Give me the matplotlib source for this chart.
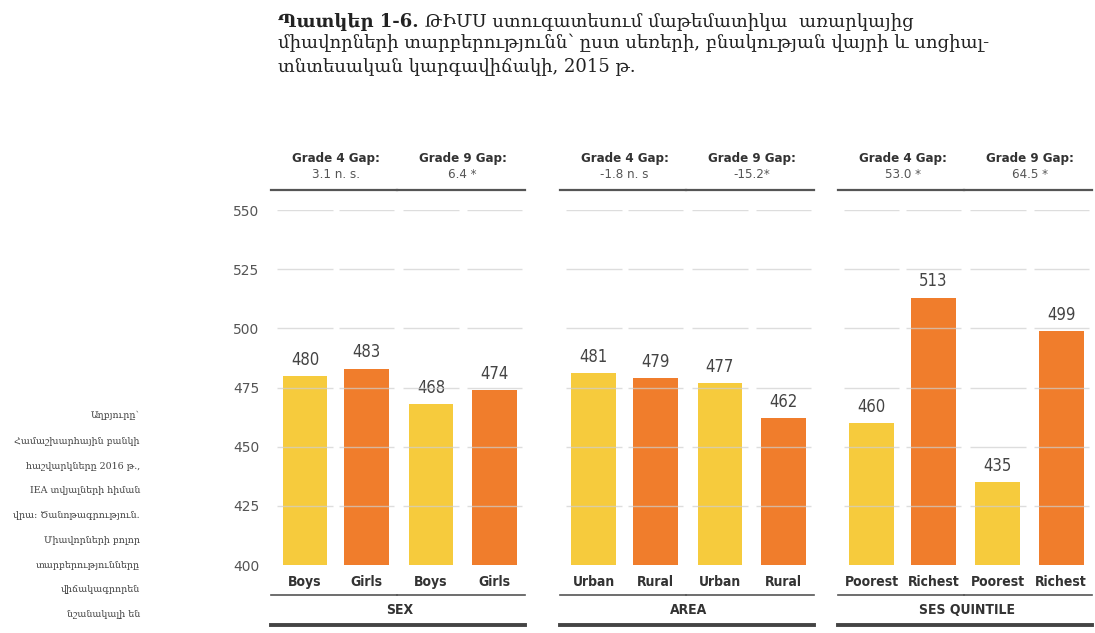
import matplotlib.pyplot as plt

# TIMSS 2015 math scores by sex, area and SES quintile
groups = ['SEX', 'AREA', 'SES QUINTILE']
labels = [['Boys', 'Girls', 'Boys', 'Girls'],
          ['Urban', 'Rural', 'Urban', 'Rural'],
          ['Poorest', 'Richest', 'Poorest', 'Richest']]
scores = [[480, 483, 468, 474],
          [481, 479, 477, 462],
          [460, 513, 435, 499]]
gap_titles = ['Grade 4 Gap:', 'Grade 9 Gap:']
gap_values = [['3.1 n. s.', '6.4 *'],
              ['-1.8 n. s', '-15.2*'],
              ['53.0 *', '64.5 *']]
yticks = [400, 425, 450, 475, 500, 525, 550]

title_bold = 'Պատկեր 1-6.'
title_rest = ' ԹԻՄՍ ստուգատեսում մաթեմատիկա  առարկայից'
title_more = ('միավորների տարբերությունն՝ ըստ սեռերի, բնակության վայրի և սոցիալ-\n'
              'տնտեսական կարգավիճակի, 2015 թ.')
note = ('Աղբյուրը՝\nՀամաշխարհային բանկի\nհաշվարկները 2016 թ.,\nIEA տվյալների հիման\n'
        'վրա: Ծանոթագրություն.\nՄիավորների բոլոր\nտարբերությունները\n'
        'վիճակագրորեն\nնշանակալի են')

yellow, orange = '#F6CB3D', '#F07D2C'
dark = '#333333'
arm = ['DejaVu Serif', 'DejaVu Sans']

fig = plt.figure(figsize=(10.95, 6.33), dpi=100)
ax = fig.add_axes([265 / 1095, 1 - 565 / 633, 830 / 1095, 355 / 633])

group_start = [0, 4.7, 9.22]
offsets = [0, 1, 2.05, 3.08]
w = 0.73

for g in range(3):
    xs = [group_start[g] + o for o in offsets]
    cols = [yellow, orange, yellow, orange]
    ax.bar(xs, [s - 400 for s in scores[g]], bottom=400, width=w, color=cols, zorder=2)
    for i, (x, s) in enumerate(zip(xs, scores[g])):
        ax.text(x, s + 3, str(s), ha='center', va='bottom', fontsize=12,
                color='#444444', family='DejaVu Sans', stretch='condensed')
        # broken gridlines behind each column
        for t in yticks[1:]:
            ax.plot([x - 0.45, x + 0.45], [t, t], color='#cfcfcf', lw=1.0,
                    alpha=0.7, zorder=3, solid_capstyle='butt')
        ax.text(x, 392.8, labels[g][i], ha='center', va='center',
                fontsize=10, fontweight='bold', color=dark, family='DejaVu Sans',
                stretch='condensed')
    for p in range(2):
        a, b = xs[2 * p], xs[2 * p + 1]
        mid = (a + b) / 2
        ax.plot([a - 0.55, b + 0.5], [558.4, 558.4], color='#555555', lw=1.6,
                clip_on=False)
        ax.plot([a - 0.55, b + 0.5], [387.3, 387.3], color='#555555', lw=1.2,
                clip_on=False)
        ax.text(mid, 571.9, gap_titles[p], ha='center', va='center', fontsize=9.5,
                fontweight='bold', color=dark, family='DejaVu Sans', stretch='condensed')
        ax.text(mid, 565.0, gap_values[g][p], ha='center', va='center', fontsize=9.5,
                color='#555555', family='DejaVu Sans', stretch='condensed')
    ax.plot([xs[0] - 0.55, xs[3] + 0.5], [374.7, 374.7], color='#444444', lw=2.8,
            clip_on=False)
    ax.text((xs[0] + xs[3]) / 2, 381, groups[g], ha='center', va='center', fontsize=10,
            fontweight='bold', color=dark, family='DejaVu Sans', stretch='condensed')

ax.set_xlim(-0.65, 12.85)
ax.set_ylim(400, 550)
ax.set_yticks(yticks)
ax.tick_params(axis='y', length=0, pad=4, labelsize=10, labelcolor='#555555')
ax.set_xticks([])
for s in ax.spines.values():
    s.set_visible(False)

# title with bold prefix
t1 = fig.text(278 / 1095, 1 - 22 / 633, title_bold, fontsize=13, fontweight='bold',
              family=arm, color='#222222', va='center', ha='left')
fig.canvas.draw()
bb = t1.get_window_extent()
fig.text(bb.x1 / 1095, 1 - 22 / 633, title_rest, fontsize=13, family=arm,
         color='#222222', va='center', ha='left')
fig.text(278 / 1095, 1 - 34 / 633, title_more, fontsize=13, family=arm,
         color='#222222', va='top', ha='left', linespacing=1.35)

fig.text(140 / 1095, 1 - 411 / 633, note, fontsize=6.8, family=arm, color='#444444',
         ha='right', va='top', linespacing=3.25)

fig.savefig('out.png', dpi=100)
